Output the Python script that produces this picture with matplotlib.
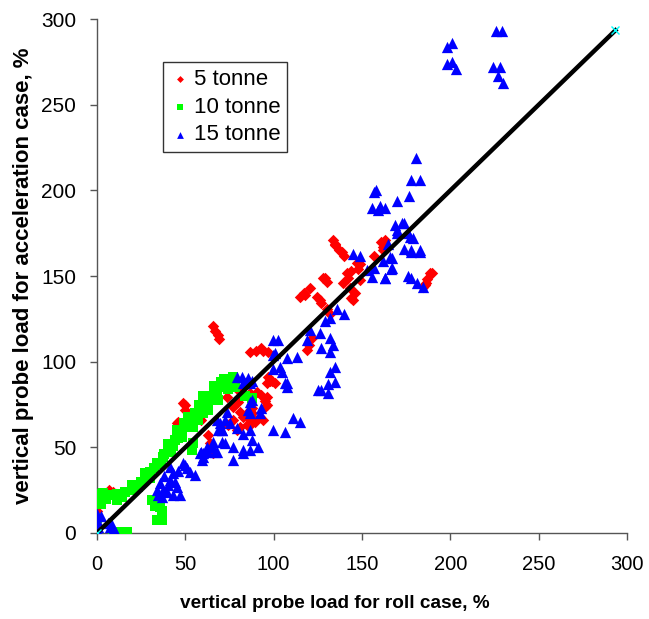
import matplotlib
matplotlib.use('Agg')
import matplotlib.pyplot as plt

plt.rcParams['font.family'] = ['Liberation Sans', 'DejaVu Sans']

# 5 tonne
red_x = [0, 7, 11, 9, 45, 63, 58, 59, 48.7, 50, 50, 46,
         65.6, 68.5, 66.8, 69, 86.6, 93, 96.8, 94, 90,
         96.8, 100.7, 98, 96, 95, 95, 90.5, 86.6, 81, 79.8, 88, 85, 86.6, 89.4,
         77, 74, 78, 81, 75, 73.6, 77, 80, 85, 79, 65.6, 64, 92, 94, 88,
         96, 99, 93, 96, 77, 82.6, 88, 88, 81,
         119, 121.7, 120, 115, 117, 120.5, 118, 124.5, 127, 130, 132, 126,
         129, 128, 130, 133.5, 135, 137, 140, 134.5, 138.5,
         139, 141.5, 144, 147, 149, 146, 145, 149, 144, 142, 143, 148,
         161, 162, 163, 162, 157, 184.5, 186, 187, 188.5, 189.6, 185.5]
red_y = [13, 25, 23, 24, 64, 57, 70, 66, 76, 72, 74.7, 64.8,
         121, 115.6, 118, 113, 105.7, 108, 105.7, 106, 106,
         91, 87.6, 89, 79.4, 73.6, 77, 82.3, 81.7, 79.4, 76.5, 73, 70, 66, 64.8,
         66, 63, 76.5, 70.6, 85, 79.4, 89, 83.5, 63, 60, 46.7, 52.5, 67.7, 66, 67.7,
         87.6, 89, 80.6, 74.7, 73.6, 67.7, 70, 64, 62,
         107, 114, 110, 138, 140, 143, 139, 138, 134, 131, 128, 136,
         149, 149, 146.5, 171, 168, 165, 162, 169, 164,
         146, 151.8, 153, 157.6, 157, 140, 136, 147.7, 137, 149, 143, 154,
         170, 165, 171, 167, 162, 143.6, 146, 148, 152, 152, 145]

# 10 tonne
green_x = [0, 1.7, 3.4, 7.4, 11.3, 11.3, 14, 19.8, 23, 28.3, 30, 34, 37.4, 40,
           43, 46, 47.5, 51, 53, 55.7, 61, 63, 68, 68.5, 68, 68.5, 62.3, 62.8,
           55.5, 51.5, 54.3, 50, 54.3, 77, 78, 75, 87.7, 53.7,
           35.6, 34, 36.8, 35.6, 17, 14, 9, 0,
           25, 32, 38, 44, 48, 42, 36, 30, 45, 57, 60, 65, 70, 72, 58, 20, 16,
           5, 2, 31, 33, 37, 84, 27, 40, 49, 60, 66, 74]
green_y = [22, 23, 23.3, 22, 19, 23, 21, 25, 27, 32.7, 35.6, 41, 44.4, 47.3,
           51, 55.6, 59.5, 63.6, 67, 70, 73.5, 77.6, 81.7, 85, 84.6, 77.6, 76.5, 71.8,
           70, 67.7, 62, 62, 52.5, 91, 85, 89, 78.8, 48.5,
           17.5, 7.6, 7.6, 15, 0.6, 0.6, 0.6, 9,
           30, 38, 46, 54, 56, 48, 40, 32, 60, 66, 70, 80, 88, 90, 75, 28, 24,
           20, 17, 19, 16, 13, 80, 35, 52, 64, 80, 86, 84]

# 15 tonne
blue_x = [0, 0.5, 7.4, 9, 11, 0, 6, 2, 0, 8,
          41.3, 43, 35.6, 34, 37.4, 41.3, 45, 48.7, 51, 52.6, 55.5, 47, 34.5,
          39.6, 43, 36.8, 40, 44, 38, 46,
          58.3, 62.3, 65.6, 68, 59.4,
          68, 70.7, 75, 79, 82.6, 86.6, 88, 91, 86.6, 82.6, 77, 72.4, 65.6, 62.3,
          60, 66.8, 77, 82.6, 71, 62, 59, 60, 50,
          73.6, 72.4, 69.6, 68.5, 70.7,
          79, 82, 85.5, 86.6, 82.6, 84, 88,
          86.6, 85.5, 86.6, 92, 93, 87.7,
          99.6, 102.4, 100.7, 99.6, 107.5, 113, 99.6, 103.6, 104.7, 107.5, 106.4, 107.5,
          111, 115, 99.6, 106.4, 125,
          120.5, 126, 132, 133.6, 127, 132, 119,
          134.7, 132, 134.7, 130.7, 127, 131,
          136, 140, 129, 132,
          145, 149, 153, 157, 155.6, 163, 166.4, 167, 164.7, 170, 176, 179, 174,
          178, 183, 166, 162, 167, 163, 168.6, 172.6, 174, 170, 177, 183, 178,
          178, 181, 184.5, 176,
          157, 155.6, 159, 163, 170, 176.6, 178, 183, 180.5, 158, 160,
          198, 201, 198, 201, 203, 226, 229, 224, 228, 227, 230]
blue_y = [7.6, 3.5, 3.5, 1.7, 0, 2, 6, 10, 11, 6,
          38.5, 35, 29, 25, 25, 31, 27, 41, 38, 35.6, 33.9, 22, 22,
          24, 22, 21, 28, 30, 33, 36,
          46.7, 47.3, 50, 47.3, 42.6,
          66, 60, 64, 61, 58, 60, 54, 50, 48.5, 48.5, 50, 52.5, 53, 50,
          46.7, 47.3, 42.6, 46.7, 53, 48.5, 47.3, 44.4, 39.7,
          70.6, 66, 64, 60, 60,
          91, 91, 90.5, 87.6, 87.6, 87.6, 89,
          76.5, 71.8, 70, 70, 73, 77.6,
          112.7, 112.7, 105, 104, 102, 102.7, 96, 97, 94, 87.6, 87.6, 85,
          67, 64.8, 60, 59, 83.5,
          118.5, 117, 114, 110, 108, 105.7, 112.7,
          97, 94, 88, 87, 83.5, 82,
          131, 128, 124, 125.5,
          163, 162, 153.5, 154.7, 149.4, 149, 154, 160.5, 169, 175, 175, 172, 166,
          164, 164, 161, 159, 155, 149, 180, 181, 181, 177, 173, 165, 165,
          149, 146, 143.6, 150,
          199, 190, 188.5, 190, 194, 197, 206, 206, 219, 200, 191,
          284, 286, 274, 275, 271, 293, 293, 272, 272, 267, 263]

line_x = [0, 293.5]
line_y = [0, 293.5]

ticks = [0, 50, 100, 150, 200, 250, 300]

fig = plt.figure(figsize=(6.49, 6.19), dpi=100)
ax = fig.add_axes([0.1495, 0.139, 0.8165, 0.830])

ax.scatter(red_x, red_y, marker='D', s=34, color='#FF0000', linewidths=0,
           label='5 tonne', zorder=2)
ax.scatter(green_x, green_y, marker='s', s=60, color='#00FF00', linewidths=0,
           label='10 tonne', zorder=3)
ax.scatter(blue_x, blue_y, marker='^', s=66, color='#0000FF', linewidths=0,
           label='15 tonne', zorder=4)
ax.plot(line_x, line_y, color='black', lw=3.2, zorder=5)
ax.plot(line_x, line_y, ls='none', marker='x', ms=6, mew=1, color='#00FFFF', zorder=6)

ax.set_xlim(0, 300)
ax.set_ylim(0, 300)
ax.set_xticks(ticks)
ax.set_yticks(ticks)
ax.tick_params(direction='out', length=5, width=1, color='#555555')
ax.tick_params(axis='x', labelsize=14.5, pad=11)
ax.tick_params(axis='y', labelsize=15, pad=10)
ax.spines['top'].set_visible(False)
ax.spines['right'].set_visible(False)
for sp in ['left', 'bottom']:
    ax.spines[sp].set_color('#555555')
    ax.spines[sp].set_linewidth(1)

ax.set_xlabel('vertical probe load for roll case, %', fontsize=13.7,
              fontweight='bold')
ax.xaxis.set_label_coords(0.449, -0.121)
ax.set_ylabel('vertical probe load for acceleration case, %', fontsize=16,
              fontweight='bold', labelpad=5)

leg = ax.legend(loc='upper left', bbox_to_anchor=(0.1245, 0.916), fontsize=16,
                frameon=True, fancybox=False, handletextpad=0.2,
                handlelength=0.9, borderpad=0.3, labelspacing=0.3,
                borderaxespad=0, scatterpoints=1, markerscale=0.6)
leg.get_frame().set_edgecolor('black')
leg.get_frame().set_linewidth(1)

fig.savefig('out.png', dpi=100)
